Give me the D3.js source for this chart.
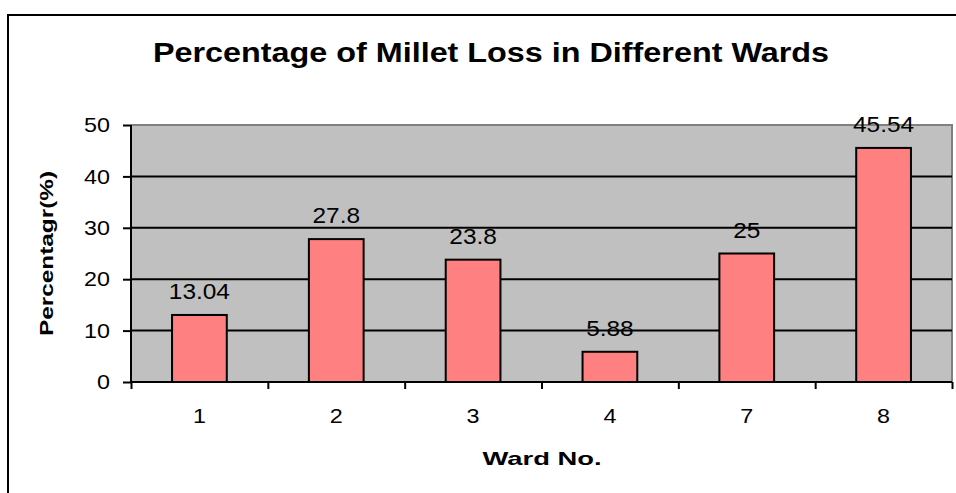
<!DOCTYPE html>
<meta charset="utf-8">
<title>Percentage of Millet Loss in Different Wards</title>
<style>
body { margin: 0; background: #fff; }
svg { display: block; font-family: Arial, "Liberation Sans", sans-serif; }
</style>
<body>
<script src="https://cdn.jsdelivr.net/npm/d3@7"></script>
<script>
'use strict';

// data
const wards = ["1", "2", "3", "4", "7", "8"];
const lossPct = [13.04, 27.8, 23.8, 5.88, 25, 45.54];
const yTicks = [0, 10, 20, 30, 40, 50];

const W = 956, H = 493;
const plot = {left: 131, right: 952, top: 125, bottom: 382};

// the original text is a bit wider than the plain font
var stretch = function(sel, k) {
  sel.each(function() {
    const len = this.getComputedTextLength();
    d3.select(this)
      .attr("textLength", len * k)
      .attr("lengthAdjust", "spacingAndGlyphs");
  });
};

const svg = d3.select("body").append("svg")
    .attr("width", W)
    .attr("height", H);

// chart frame (right and bottom edges run off the picture)
svg.append("rect")
    .attr("x", 8).attr("y", 15)
    .attr("width", 980).attr("height", 520)
    .attr("fill", "none")
    .attr("stroke", "#000")
    .attr("stroke-width", 2);

const x = d3.scaleBand()
    .domain(wards)
    .range([plot.left, plot.right])
    .paddingInner(0.6)
    .paddingOuter(0.3);

const xEdge = d3.scaleLinear().domain([0, wards.length]).range([plot.left, plot.right]);

const y = d3.scaleLinear().domain([0, 50]).range([plot.bottom, plot.top]);

// plot area
svg.append("rect")
    .attr("x", plot.left).attr("y", plot.top)
    .attr("width", plot.right - plot.left)
    .attr("height", plot.bottom - plot.top)
    .attr("fill", "#c0c0c0");

svg.append("path")
    .attr("d", `M${plot.left},${plot.top}H${plot.right}V${plot.bottom}`)
    .attr("fill", "none")
    .attr("stroke", "#808080")
    .attr("stroke-width", 2);

// gridlines
svg.append("g")
  .selectAll("line")
  .data(yTicks.filter(d => d > 0 && d < 50))
  .enter().append("line")
    .attr("x1", plot.left).attr("x2", plot.right)
    .attr("y1", d => y(d)).attr("y2", d => y(d))
    .attr("stroke", "#000")
    .attr("stroke-width", 2);

// bars
svg.append("g")
  .selectAll("rect")
  .data(wards)
  .enter().append("rect")
    .attr("x", d => x(d))
    .attr("y", (d, i) => y(lossPct[i]))
    .attr("width", x.bandwidth())
    .attr("height", (d, i) => y(0) - y(lossPct[i]))
    .attr("fill", "#ff8080")
    .attr("stroke", "#000")
    .attr("stroke-width", 2);

// value labels
svg.append("g")
  .selectAll("text")
  .data(wards)
  .enter().append("text")
    .attr("x", d => x(d) + x.bandwidth() / 2)
    .attr("y", (d, i) => y(lossPct[i]) - 16)
    .attr("text-anchor", "middle")
    .attr("font-size", 22)
    .text((d, i) => lossPct[i])
    .call(stretch, 1.11);

// y axis
const yAxis = svg.append("g")
    .attr("transform", `translate(${plot.left},0)`)
    .call(d3.axisLeft(y).tickValues(yTicks).tickSize(8).tickPadding(13));
yAxis.select(".domain").attr("stroke-width", 2).attr("d", `M0,${plot.top}V${plot.bottom}`);
yAxis.selectAll(".tick line").attr("stroke-width", 2);
yAxis.selectAll(".tick text")
    .attr("font-size", 21)
    .attr("font-family", "Arial, 'Liberation Sans', sans-serif")
    .attr("fill", "#000")
    .call(stretch, 1.11);

// x axis: ticks between categories
const xAxis = svg.append("g")
    .attr("transform", `translate(0,${plot.bottom})`)
    .call(d3.axisBottom(xEdge).ticks(wards.length).tickSize(7).tickFormat(""));
xAxis.select(".domain").attr("stroke-width", 2).attr("d", `M${plot.left},0H${plot.right}`);
xAxis.selectAll(".tick line").attr("stroke-width", 2);

svg.append("g")
  .selectAll("text")
  .data(wards)
  .enter().append("text")
    .attr("x", d => x(d) + x.bandwidth() / 2)
    .attr("y", 423)
    .attr("text-anchor", "middle")
    .attr("font-size", 21)
    .text(d => d)
    .call(stretch, 1.11);

// titles
svg.append("text")
    .attr("x", 491).attr("y", 62)
    .attr("text-anchor", "middle")
    .attr("font-size", 28)
    .attr("font-weight", "bold")
    .attr("textLength", 676)
    .attr("lengthAdjust", "spacingAndGlyphs")
    .text("Percentage of Millet Loss in Different Wards");

svg.append("text")
    .attr("x", 542).attr("y", 465)
    .attr("text-anchor", "middle")
    .attr("font-size", 19)
    .attr("font-weight", "bold")
    .attr("textLength", 119)
    .attr("lengthAdjust", "spacingAndGlyphs")
    .text("Ward No.");

svg.append("text")
    .attr("transform", `translate(53,${(plot.top + plot.bottom) / 2}) rotate(-90)`)
    .attr("text-anchor", "middle")
    .attr("font-size", 18)
    .attr("font-weight", "bold")
    .attr("textLength", 165)
    .attr("lengthAdjust", "spacingAndGlyphs")
    .text("Percentagr(%)");
</script>
</body>
